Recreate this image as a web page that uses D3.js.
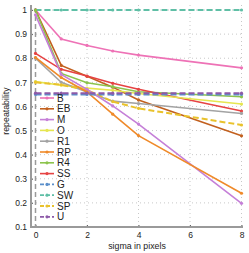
<!DOCTYPE html>
<html><head><meta charset="utf-8">
<script src="https://cdn.jsdelivr.net/npm/d3@7"></script>
<style>body{margin:0;background:#fff}svg{display:block}text{font-family:"Liberation Sans",Arial,sans-serif}</style>
</head><body><svg id="c" width="249" height="253"></svg>
<script>
const sigmas = [0, 1, 2, 3, 4, 8];
const seriesNames = ["B","EB","M","O","R1","RP","R4","SS","G","SW","SP","U"];
const B  = [1.0, 0.88, 0.853, 0.83, 0.813, 0.76];
const EB = [1.0, 0.77, 0.725, 0.68, 0.627, 0.478];
const M  = [0.98, 0.733, 0.671, 0.602, 0.527, 0.198];
const O  = [0.703, 0.688, 0.676, 0.667, 0.654, 0.61];
const R1 = [0.80, 0.70, 0.66, 0.622, 0.612, 0.571];
const RP = [0.803, 0.72, 0.66, 0.568, 0.479, 0.24];
const R4 = [1.0, 0.737, 0.698, 0.682, 0.661, 0.64];
const SS = [0.82, 0.754, 0.726, 0.696, 0.671, 0.581];
const G  = [0.65, 0.65, 0.65, 0.65, 0.65, 0.65];
const SW = [1.0, 1.0, 1.0, 1.0, 1.0, 1.0];
const SP = [0.70, 0.69, 0.668, 0.62, 0.592, 0.523];
const U  = [0.655, 0.655, 0.655, 0.655, 0.655, 0.655];
const yTicks = [0.1,0.2,0.3,0.4,0.5,0.6,0.7,0.8,0.9,1];
const yTickLabels = ["0.1","0.2","0.3","0.4","0.5","0.6","0.7","0.8","0.9","1"];
const xTicks = [0,2,4,6,8];

const values = [B,EB,M,O,R1,RP,R4,SS,G,SW,SP,U];
const colors = ["#ee72b6","#c2601e","#c57fd8","#e6e650","#a3a3a3","#ef8a2a","#8cc44c","#e64343","#5b8fcb","#5fbfa6","#e9c22c","#8d5aa8"];
const dashed = [false,false,false,false,false,false,false,false,true,true,true,true];

const svg = d3.select("#c");
const x = d3.scaleLinear().domain([0,8]).range([35.5,241.5]);
const y = d3.scaleLinear().domain([0.1,1]).range([227,10]);

// grid
svg.append("g").selectAll("line").data(yTicks.slice(1)).join("line")
  .attr("x1",32).attr("x2",242).attr("y1",d=>y(d)).attr("y2",d=>y(d))
  .attr("stroke","#c8c8c8").attr("stroke-width",1).attr("stroke-dasharray","1,3");
svg.append("g").selectAll("line").data(xTicks.slice(1)).join("line")
  .attr("x1",d=>x(d)).attr("x2",d=>x(d)).attr("y1",5).attr("y2",227)
  .attr("stroke","#c8c8c8").attr("stroke-width",1).attr("stroke-dasharray","1,3");

// axes
const yAxis = d3.axisLeft(y).tickValues(yTicks).tickFormat((d,i)=>yTickLabels[i]).tickSize(-2).tickPadding(4);
const gy = svg.append("g").attr("transform","translate(31,0)").call(yAxis);
gy.select(".domain").remove();
gy.selectAll(".tick line").attr("stroke","#666");
gy.selectAll("text").attr("font-size","8.5px").attr("fill","#222");
const xAxis = d3.axisBottom(x).tickValues(xTicks).tickSize(-2).tickPadding(5);
const gx = svg.append("g").attr("transform","translate(0,227)").call(xAxis);
gx.select(".domain").remove();
gx.selectAll(".tick line").attr("stroke","#666");
gx.selectAll("text").attr("font-size","8.5px").attr("fill","#222");

svg.append("line").attr("x1",31).attr("x2",31).attr("y1",5).attr("y2",228).attr("stroke","#9a9a9a").attr("stroke-width",2);
svg.append("line").attr("x1",30).attr("x2",243).attr("y1",227).attr("y2",227).attr("stroke","#9a9a9a").attr("stroke-width",2);

// vertical dashed line at sigma 0
svg.append("line").attr("x1",x(0)).attr("x2",x(0)).attr("y1",8).attr("y2",227)
  .attr("stroke","#9a9a9a").attr("stroke-width",1.5).attr("stroke-dasharray","5,3");

const line = d3.line().x((d,i)=>x(sigmas[i])).y(d=>y(d));
const order = [9,0,1,6,7,3,4,10,2,5,8,11];
order.forEach(k=>{
  const g = svg.append("g");
  g.append("path").attr("d",line(values[k])).attr("fill","none")
    .attr("stroke",colors[k]).attr("stroke-width",dashed[k]?2:1.6)
    .attr("stroke-dasharray",dashed[k]?"6,3":null);
  g.selectAll("circle").data(values[k]).join("circle")
    .attr("cx",(d,i)=>x(sigmas[i])).attr("cy",d=>y(d)).attr("r",1.6).attr("fill",colors[k]);
});

// legend
const leg = svg.append("g");
seriesNames.forEach((n,i)=>{
  const yy = 98 + i*10.8;
  leg.append("line").attr("x1",40).attr("x2",54).attr("y1",yy).attr("y2",yy)
    .attr("stroke",colors[i]).attr("stroke-width",dashed[i]?1.8:1.6).attr("stroke-dasharray",dashed[i]?"4,2":null);
  leg.append("circle").attr("cx",47).attr("cy",yy).attr("r",1.6).attr("fill",colors[i]);
  leg.append("text").attr("x",57).attr("y",yy+3.5).attr("font-size","10px").attr("fill","#222").text(n);
});

// labels
svg.append("text").attr("transform","translate(9,111) rotate(-90)").attr("text-anchor","middle")
  .attr("font-size","8.8px").attr("fill","#222").text("repeatability");
svg.append("text").attr("x",137).attr("y",249).attr("text-anchor","middle")
  .attr("font-size","8.8px").attr("fill","#222").text("sigma in pixels");
</script></body></html>
